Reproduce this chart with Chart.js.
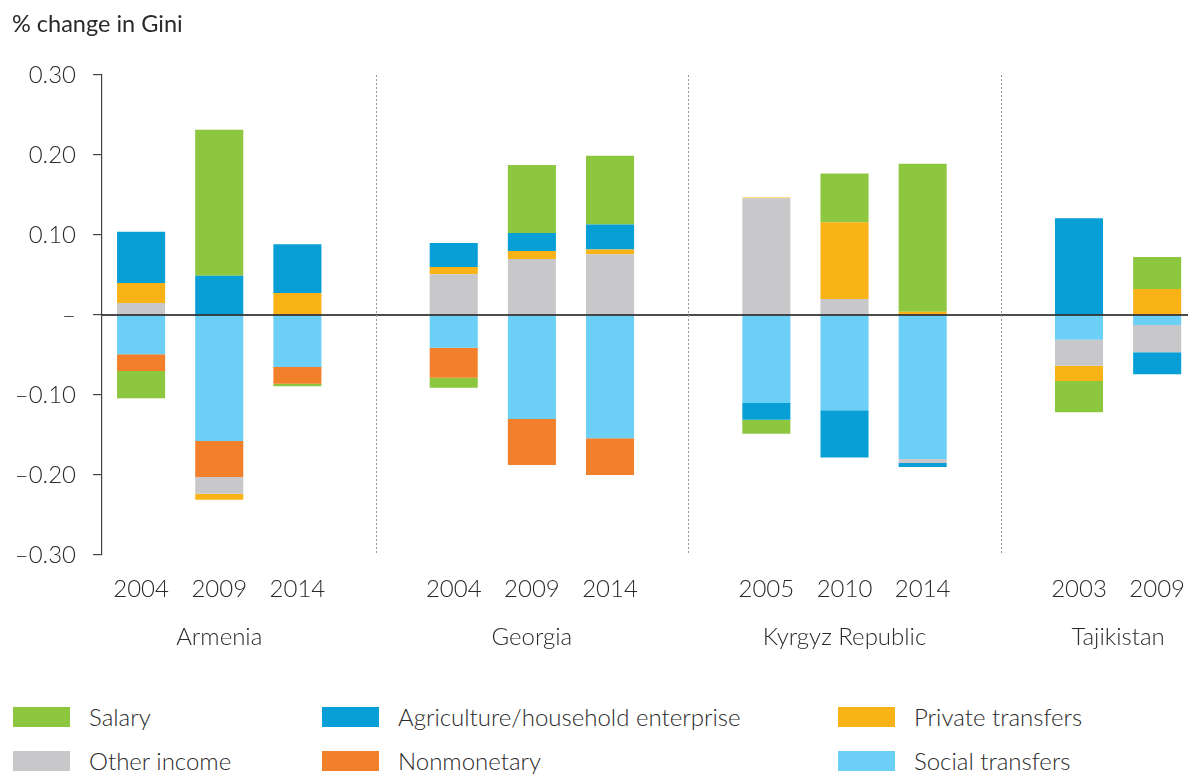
<!DOCTYPE html>
<html>
<head>
<meta charset="utf-8">
<script src="https://cdn.jsdelivr.net/npm/chart.js@4.4.0/dist/chart.umd.min.js"></script>
<style>
    body { margin: 0; background: #fff; overflow: hidden; font-family: Lato, sans-serif; color: #2a2a2a; }
    #wrap { position: relative; width: 1188px; height: 774px; overflow: hidden; }
    #title { position: absolute; left: 12px; top: 9px; font-size: 23.5px; font-weight: 400; }
    #chartBox { position: absolute; left: 0; top: 0; width: 1205px; height: 690px; }
    .leg { position: absolute; font-size: 24px; font-weight: 300; line-height: 24px; }
    .leg span { position: absolute; left: 0; top: 2px; width: 57px; height: 20px; }
</style>
</head>
<body>
<div id="wrap">
    <div id="chartBox"><canvas id="chart" width="1205" height="690"></canvas></div>
    <div id="title">% change in Gini</div>
    <div id="legend"></div>
</div>
<script>
// categories (empty label = gap between countries)
const labels = ['2004', '2009', '2014', '', '2004', '2009', '2014', '', '2005', '2010', '2014', '', '2003', '2009'];
const countries = ['Armenia', 'Georgia', 'Kyrgyz Republic', 'Tajikistan'];
const countryIdx = [[0, 2], [4, 6], [8, 10], [12, 13]];
const separators = [3, 7, 11];

// series values
const salary      = [-0.034, 0.1825, -0.003, null, -0.0125, 0.085, 0.086, null, -0.0175, 0.061, 0.185, null, -0.039, 0.04];
const agriculture = [0.064, 0.049, 0.061, null, 0.030, 0.0225, 0.031, null, -0.021, -0.059, -0.005, null, 0.121, -0.0275];
const privateTr   = [0.025, -0.0075, 0.0275, null, 0.009, 0.01, 0.006, null, 0.001, 0.096, 0.004, null, -0.019, 0.0325];
const otherIncome = [0.015, -0.021, 0, null, 0.051, 0.07, 0.076, null, 0.146, 0.02, -0.005, null, -0.0325, -0.034];
const nonmonetary = [-0.021, -0.045, -0.021, null, -0.0375, -0.0575, -0.046, null, 0, 0, 0, null, 0, 0];
const social      = [-0.049, -0.1575, -0.065, null, -0.041, -0.13, -0.154, null, -0.11, -0.119, -0.18, null, -0.031, -0.0125];

const yTicks = [-0.3, -0.2, -0.1, 0, 0.1, 0.2, 0.3];

const colors = {
    salary: '#8dc63f',
    agri: '#089fd6',
    priv: '#fab317',
    other: '#c8c8ca',
    nonmon: '#f2802b',
    social: '#6ccff6'
};

// legend: 3 columns, 2 rows
const legendItems = [
    { text: 'Salary', color: colors.salary, x: 13, y: 705 },
    { text: 'Agriculture/household enterprise', color: colors.agri, x: 322, y: 705 },
    { text: 'Private transfers', color: colors.priv, x: 838, y: 705 },
    { text: 'Other income', color: colors.other, x: 13, y: 749 },
    { text: 'Nonmonetary', color: colors.nonmon, x: 322, y: 749 },
    { text: 'Social transfers', color: colors.social, x: 838, y: 749 }
];
const legendEl = document.getElementById('legend');
legendItems.forEach(it => {
    const d = document.createElement('div');
    d.className = 'leg';
    d.style.left = it.x + 'px';
    d.style.top = it.y + 'px';
    d.innerHTML = `<span style="background:${it.color}"></span><div style="margin-left:76px">${it.text}</div>`;
    legendEl.appendChild(d);
});

const textColor = '#2a2a2a';
const font = { family: 'Lato, sans-serif', size: 24, weight: '300' };

// zero line over bars, dotted separators, country names
const extras = {
    id: 'extras',
    afterDatasetsDraw(chart) {
        const { ctx, chartArea, scales } = chart;
        const y0 = scales.y.getPixelForValue(0);
        ctx.save();
        ctx.strokeStyle = '#111';
        ctx.lineWidth = 1.5;
        ctx.beginPath();
        ctx.moveTo(chartArea.left, y0);
        ctx.lineTo(chartArea.right, y0);
        ctx.stroke();

        ctx.strokeStyle = '#999';
        ctx.lineWidth = 1;
        ctx.setLineDash([2, 2]);
        separators.forEach(i => {
            const x = Math.round(scales.x.getPixelForValue(i)) + 0.5;
            ctx.beginPath();
            ctx.moveTo(x, chartArea.top);
            ctx.lineTo(x, chartArea.bottom);
            ctx.stroke();
        });
        ctx.setLineDash([]);

        ctx.fillStyle = textColor;
        ctx.font = `${font.weight} ${font.size}px ${font.family}`;
        ctx.textAlign = 'center';
        ctx.textBaseline = 'middle';
        countries.forEach((c, k) => {
            const [a, b] = countryIdx[k];
            const x = (scales.x.getPixelForValue(a) + scales.x.getPixelForValue(b)) / 2;
            ctx.fillText(c, x, chartArea.bottom + 82);
        });
        ctx.restore();
    }
};

const mk = (label, data, color) => ({ label, data, backgroundColor: color, borderWidth: 0 });

new Chart(document.getElementById('chart').getContext('2d'), {
    type: 'bar',
    data: {
        labels: labels,
        datasets: [
            mk('Social transfers', social, colors.social),
            mk('Nonmonetary', nonmonetary, colors.nonmon),
            mk('Other income', otherIncome, colors.other),
            mk('Private transfers', privateTr, colors.priv),
            mk('Agriculture/household enterprise', agriculture, colors.agri),
            mk('Salary', salary, colors.salary)
        ]
    },
    options: {
        responsive: false,
        animation: false,
        layout: { padding: { top: 75, left: 0, right: 0, bottom: 0 } },
        categoryPercentage: 1,
        barPercentage: 0.615,
        plugins: {
            legend: { display: false },
            title: { display: false },
            tooltip: { enabled: false }
        },
        scales: {
            x: {
                stacked: true,
                grid: { display: false, drawTicks: false },
                border: { display: false },
                ticks: { color: textColor, font: font, padding: 20, maxRotation: 0, autoSkip: false },
                afterFit(s) { s.height = 135; }
            },
            y: {
                stacked: true,
                min: -0.3,
                max: 0.3,
                afterBuildTicks(s) { s.ticks = yTicks.map(v => ({ value: v })); },
                grid: { drawOnChartArea: false, tickLength: 9, tickColor: '#444', lineWidth: 1.2 },
                border: { display: true, color: '#444', width: 1.2 },
                ticks: {
                    color: textColor,
                    font: font,
                    padding: 17,
                    callback(v) {
                        if (Math.abs(v) < 1e-9) return '–';
                        return (v < 0 ? '–' : '') + Math.abs(v).toFixed(2);
                    }
                },
                afterFit(s) { s.width = 102; }
            }
        }
    },
    plugins: [extras]
});
</script>
</body>
</html>
